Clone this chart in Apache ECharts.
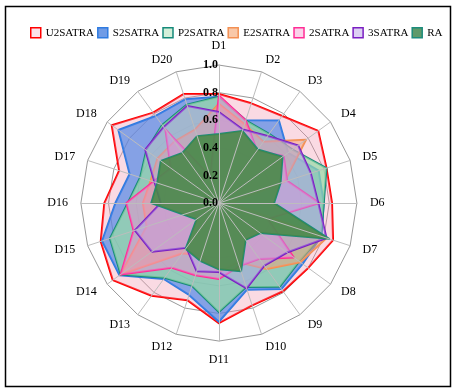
<!DOCTYPE html>
<html>
<head>
<meta charset="utf-8">
<script src="https://cdn.jsdelivr.net/npm/echarts@6/dist/echarts.min.js"></script>
<style>
  html, body { margin: 0; padding: 0; background: #fff; }
  #main { width: 456px; height: 392px; }
</style>
</head>
<body>
<div id="main"></div>
<script>
// axes D1..D20, clockwise from the top
const categories = ['D1', 'D2', 'D3', 'D4', 'D5', 'D6', 'D7', 'D8', 'D9', 'D10',
  'D11', 'D12', 'D13', 'D14', 'D15', 'D16', 'D17', 'D18', 'D19', 'D20'];

const u2satra = [0.79, 0.76, 0.78, 0.89, 0.82, 0.82, 0.87, 0.80, 0.79, 0.78, 0.87, 0.74, 0.83, 0.95, 0.90, 0.83, 0.76, 0.96, 0.81, 0.83];
const s2satra = [0.77, 0.63, 0.74, 0.62, 0.76, 0.76, 0.78, 0.75, 0.77, 0.66, 0.86, 0.70, 0.68, 0.89, 0.89, 0.75, 0.68, 0.90, 0.78, 0.79];
const p2satra = [0.77, 0.63, 0.62, 0.66, 0.82, 0.76, 0.78, 0.72, 0.75, 0.64, 0.79, 0.63, 0.67, 0.88, 0.83, 0.66, 0.60, 0.65, 0.70, 0.75];
const e2satra = [0.72, 0.60, 0.55, 0.78, 0.50, 0.08, 0.82, 0.73, 0.59, 0.45, 0.50, 0.40, 0.45, 0.88, 0.55, 0.55, 0.52, 0.55, 0.55, 0.56];
const satra2 = [0.78, 0.63, 0.47, 0.58, 0.52, 0.73, 0.37, 0.67, 0.50, 0.48, 0.55, 0.55, 0.58, 0.88, 0.65, 0.67, 0.50, 0.43, 0.66, 0.20];
const satra3 = [0.66, 0.56, 0.60, 0.71, 0.70, 0.72, 0.82, 0.61, 0.56, 0.65, 0.50, 0.52, 0.40, 0.60, 0.64, 0.42, 0.49, 0.66, 0.68, 0.74];
const ra = [0.50, 0.55, 0.48, 0.57, 0.47, 0.40, 0.84, 0.37, 0.33, 0.52, 0.48, 0.44, 0.41, 0.20, 0.27, 0.49, 0.47, 0.52, 0.45, 0.51];

const seriesNames = ['U2SATRA', 'S2SATRA', 'P2SATRA', 'E2SATRA', '2SATRA', '3SATRA', 'RA'];
const seriesValues = [u2satra, s2satra, p2satra, e2satra, satra2, satra3, ra];
const lineColors = ['#ff0000', '#2f7be0', '#168a7a', '#f39053', '#ff2d95', '#7a1fc2', '#1d8c7c'];
const fillColors = ['rgba(240,150,175,0.35)', 'rgba(70,130,230,0.65)', 'rgba(150,220,165,0.7)',
  'rgba(245,160,120,0.5)', 'rgba(240,140,210,0.5)', 'rgba(185,160,235,0.45)', 'rgba(70,135,70,0.88)'];
const legendFills = ['#fbe3ea', '#6f9be6', '#d3efd9', '#f9c8a8', '#fad2ea', '#ddd0f3', '#5f9a6a'];

// echarts radar runs counter-clockwise, the figure runs clockwise
function clockwise(arr) {
  return [arr[0]].concat(arr.slice(1).reverse());
}

const serif = 'Liberation Serif, Times New Roman, serif';
const center = ['48%', '51.8%'];
const radius = 138;

const chart = echarts.init(document.getElementById('main'));

const names = clockwise(categories);

const option = {
  animation: false,
  backgroundColor: '#fff',
  graphic: [{
    type: 'rect',
    shape: { x: 5.5, y: 6.5, width: 445, height: 380 },
    style: { fill: 'none', stroke: '#000', lineWidth: 1.5 },
    silent: true
  }],
  legend: {
    top: 22,
    left: 25,
    icon: 'rect',
    itemWidth: 10,
    itemHeight: 10,
    itemGap: 3,
    textStyle: { fontFamily: serif, fontSize: 11, color: '#000' },
    data: seriesNames.map((n, i) => ({
      name: n,
      itemStyle: { color: legendFills[i], borderColor: lineColors[i], borderWidth: 1.5 }
    }))
  },
  radar: [{
    // rings under the areas
    center: center,
    radius: radius,
    shape: 'polygon',
    splitNumber: 5,
    z: 1,
    indicator: names.map(n => ({ name: n, min: 0, max: 1 })),
    axisName: { color: '#000', fontFamily: serif, fontSize: 12 },
    nameGap: 13,
    axisLine: { show: false },
    splitLine: { lineStyle: { color: '#999', width: 1 } },
    splitArea: { show: false },
    axisLabel: { show: false }
  }, {
    // spokes and tick labels above the areas
    center: center,
    radius: radius,
    shape: 'polygon',
    splitNumber: 5,
    z: 5,
    indicator: names.map((n, i) => {
      const ind = { name: n, min: 0, max: 1 };
      if (i === 0) {
        ind.axisLabel = {
          show: true, color: '#000', fontFamily: serif, fontSize: 12, fontWeight: 'bold',
          margin: 1, formatter: v => v.toFixed(1)
        };
      }
      return ind;
    }),
    axisName: { show: false },
    axisLine: { lineStyle: { color: '#bdbdbd', width: 1 } },
    axisTick: { show: false },
    splitLine: { show: false },
    splitArea: { show: false },
    axisLabel: { show: false }
  }],
  series: seriesNames.map((n, i) => ({
    name: n,
    type: 'radar',
    radarIndex: 0,
    symbol: 'none',
    itemStyle: { color: lineColors[i] },
    lineStyle: { color: lineColors[i], width: 2 },
    areaStyle: { color: fillColors[i], opacity: 1 },
    data: [{ name: n, value: clockwise(seriesValues[i]) }]
  }))
};

chart.setOption(option);
</script>
</body>
</html>
